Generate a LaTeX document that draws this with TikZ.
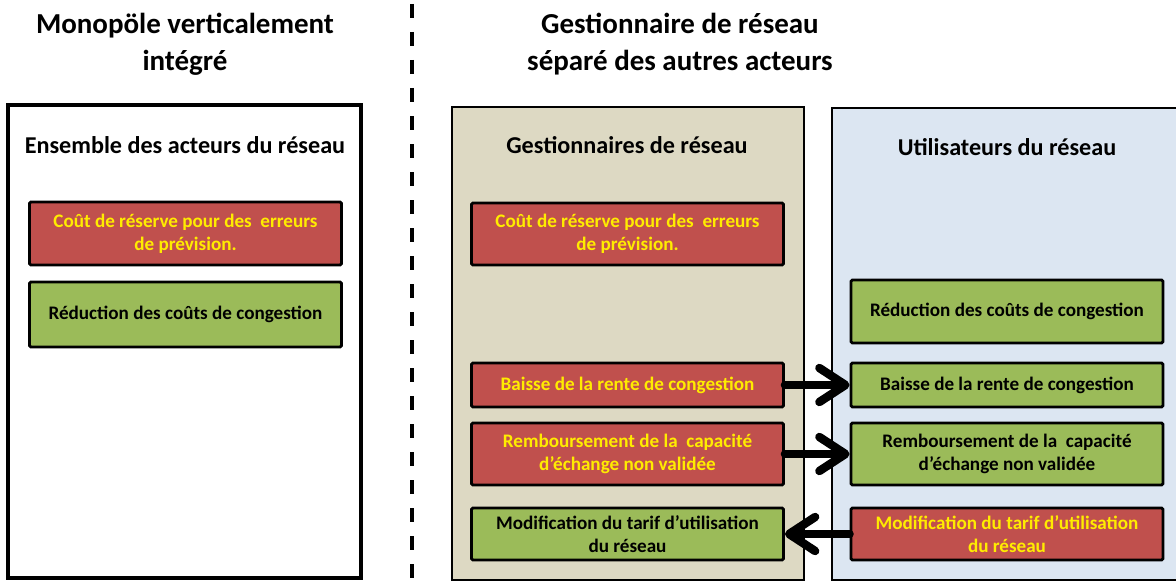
\documentclass[tikz,border=0pt]{standalone}
\usepackage{fontspec}
\setmainfont{Carlito}
\usepackage{tikz}
\usepackage{xcolor}
\usetikzlibrary{arrows.meta,positioning}
\definecolor{resred}{HTML}{C0504D}
\definecolor{resgreen}{HTML}{9BBB59}
\definecolor{resbeige}{HTML}{DDD9C3}
\definecolor{resblue}{HTML}{DCE6F2}
\definecolor{resyellow}{HTML}{FFEC00}
\tikzset{
  actorframe/.style={draw=black, line width=1.6pt, inner sep=0pt, minimum width=88mm},
  costbox/.style={draw=black, fill=resred, text=resyellow, line width=2pt, rounded corners=1pt, align=center, inner sep=0pt, minimum width=78mm, font=\bfseries\fontsize{13.6}{16.4}\selectfont},
  gainbox/.style={costbox, fill=resgreen, text=black},
  heading/.style={font=\bfseries\fontsize{17.2}{20}\selectfont},
  bigtitle/.style={align=center, font=\bfseries\fontsize{20.6}{26.5}\selectfont},
  transfer/.style={-{Straight Barb[length=6.5mm,width=8.5mm,round]}, line width=6pt, line cap=round}
}
\begin{document}
\begin{tikzpicture}[x=0.25mm, y=-0.25mm]
  \useasboundingbox (0,0) rectangle (1176,582);
  % titles
  \node[bigtitle] (monoTitle) at (185,44) {Monopöle verticalement\\intégré};
  \node[bigtitle] (sepTitle) at (680,44) {Gestionnaire de réseau\\séparé des autres acteurs};
  % separator
  \coordinate (sepTop) at (412,4);
  \coordinate (sepBot) at (412,582);
  \draw[line width=2.6pt, dash pattern=on 3.4mm off 3.6mm] (sepTop) -- (sepBot);
  % frames
  \node[actorframe, fill=white, line width=2.2pt, minimum width=88.25mm, minimum height=118.25mm] (monoFrame) at (184.5,341.5) {};
  \node[actorframe, fill=resbeige, minimum width=88mm, minimum height=118.25mm] (gestFrame) at (628,343.5) {};
  \node[actorframe, fill=resblue, minimum width=88.25mm, minimum height=118mm] (utilFrame) at (1008.5,344) {};
  \node[heading] (monoHead) at (185,145) {Ensemble des acteurs du réseau};
  \node[heading] (gestHead) at (627,145) {Gestionnaires de réseau};
  \node[heading] (utilHead) at (1007,147) {Utilisateurs du réseau};
  % monopole
  \node[costbox, minimum height=15.75mm] (monoReserve) at (185.5,233.5) {Coût de réserve pour des~ erreurs\\de prévision.};
  \node[gainbox, minimum height=16.25mm] (monoReduc) at (185.5,314.5) {Réduction des coûts de congestion};
  % gestionnaires
  \node[costbox, minimum height=15.5mm] (gestReserve) at (627.5,234) {Coût de réserve pour des~ erreurs\\de prévision.};
  \node[costbox, minimum height=11mm] (gestBaisse) at (627.5,385) {Baisse de la rente de congestion};
  \node[costbox, minimum height=15.5mm] (gestRemb) at (627.5,454) {Remboursement de la~ capacité\\d’échange non validée};
  \node[gainbox, minimum height=13mm] (gestTarif) at (627.5,534) {Modification du tarif d’utilisation\\du réseau};
  % utilisateurs
  \node[gainbox, minimum height=15.75mm] (utilReduc) at (1007,311.5) {Réduction des coûts de congestion};
  \node[gainbox, minimum height=11mm] (utilBaisse) at (1007,385) {Baisse de la rente de congestion};
  \node[gainbox, minimum height=15.5mm] (utilRemb) at (1007,454) {Remboursement de la~ capacité\\d’échange non validée};
  \node[costbox, minimum height=13mm] (utilTarif) at (1007,534) {Modification du tarif d’utilisation\\du réseau};
  % transfers
  \draw[transfer] (gestBaisse.east) -- (utilBaisse.west);
  \draw[transfer] (gestRemb.east) -- (utilRemb.west);
  \draw[transfer] (utilTarif.west) -- (gestTarif.east);
\end{tikzpicture}
\end{document}
